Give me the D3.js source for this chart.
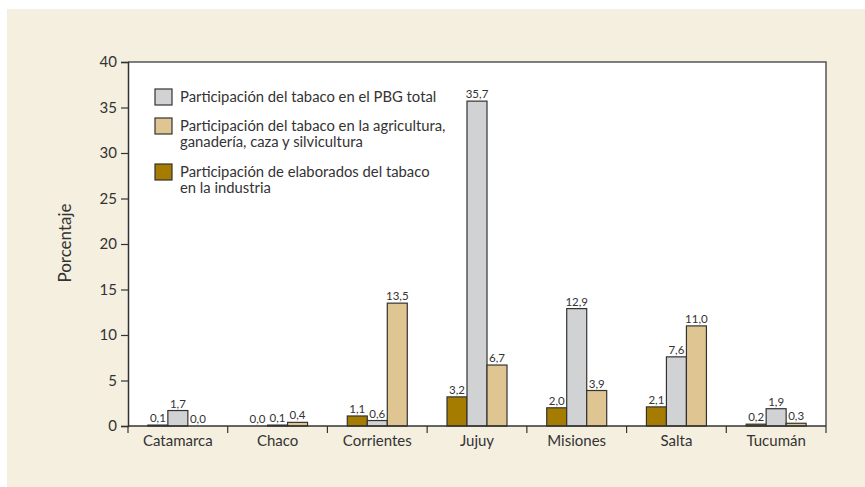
<!DOCTYPE html>
<html>
<head>
<meta charset="utf-8">
<script src="https://cdn.jsdelivr.net/npm/d3@7"></script>
<style>
  body { margin: 0; background: #ffffff; }
  text { font-family: Lato, "Open Sans", sans-serif; fill: #333333; }
</style>
</head>
<body>
<script>
// Provinces and the three series (percent)
var provincias = ["Catamarca", "Chaco", "Corrientes", "Jujuy", "Misiones", "Salta", "Tucumán"];
var elaborados = [0.1, 0.0, 1.1, 3.2, 2.0, 2.1, 0.2];
var pbgTotal = [1.7, 0.1, 0.6, 35.7, 12.9, 7.6, 1.9];
var agricultura = [0.0, 0.4, 13.5, 6.7, 3.9, 11.0, 0.3];
var yTicks = [0, 5, 10, 15, 20, 25, 30, 35, 40];

var series = [
  {key: "elab", values: elaborados, color: "#a67c00"},
  {key: "pbg", values: pbgTotal, color: "#d1d2d4"},
  {key: "agri", values: agricultura, color: "#dfc591"}
];

var legendItems = [
  {color: "#d1d2d4", lines: ["Participación del tabaco en el PBG total"]},
  {color: "#dfc591", lines: ["Participación del tabaco en la agricultura,", "ganadería, caza y silvicultura"]},
  {color: "#a67c00", lines: ["Participación de elaborados del tabaco", "en la industria"]}
];

var w = 865;
var h = 487;
var plotLeft = 128, plotRight = 826, plotTop = 62, plotBottom = 426;

var svg = d3.select("body")
  .append("svg")
  .attr("width", w)
  .attr("height", h);

// beige background and white plot area
svg.append("rect")
  .attr("x", 7).attr("y", 9)
  .attr("width", w - 7).attr("height", h - 9)
  .attr("fill", "#f5efe0");

svg.append("rect")
  .attr("x", plotLeft).attr("y", plotTop)
  .attr("width", plotRight - plotLeft).attr("height", plotBottom - plotTop)
  .attr("fill", "#ffffff");

var xScale = d3.scaleBand()
  .domain(provincias)
  .range([plotLeft, plotRight]);

var bw = xScale.bandwidth();
var inner = d3.scaleBand()
  .domain(series.map(function(s) { return s.key; }))
  .range([bw / 2 - 30, bw / 2 + 30]);

var yScale = d3.scaleLinear()
  .domain([0, 40])
  .range([plotBottom, plotTop]);

// top and right frame
svg.append("path")
  .attr("d", "M" + plotLeft + "," + plotTop + "H" + plotRight + "V" + plotBottom)
  .attr("fill", "none")
  .attr("stroke", "#555555")
  .attr("stroke-width", 1.5);

// bars
var groups = svg.selectAll(".serie")
  .data(series)
  .enter()
  .append("g")
  .attr("class", "serie");

groups.selectAll("rect")
  .data(function(s) {
    return s.values.map(function(v, i) { return {key: s.key, color: s.color, v: v, cat: provincias[i]}; });
  })
  .enter()
  .append("rect")
  .attr("x", function(d) { return xScale(d.cat) + inner(d.key); })
  .attr("y", function(d) { return yScale(d.v); })
  .attr("width", inner.bandwidth())
  .attr("height", function(d) { return plotBottom - yScale(d.v); })
  .attr("fill", function(d) { return d.color; })
  .attr("stroke", "#333333")
  .attr("stroke-width", 1.2);

// value labels
var fmt = function(v) { return v.toFixed(1).replace(".", ","); };
groups.selectAll("text")
  .data(function(s) {
    return s.values.map(function(v, i) { return {key: s.key, v: v, cat: provincias[i]}; });
  })
  .enter()
  .append("text")
  .attr("x", function(d) { return xScale(d.cat) + inner(d.key) + inner.bandwidth() / 2; })
  .attr("y", function(d) { return yScale(d.v) - 3; })
  .attr("text-anchor", "middle")
  .style("font-size", "11.5px")
  .text(function(d) { return fmt(d.v); });

// y axis
var yAxis = svg.append("g")
  .attr("transform", "translate(" + plotLeft + ",0)")
  .call(d3.axisLeft(yScale).tickValues(yTicks).tickSize(7).tickPadding(4));
yAxis.select(".domain").attr("stroke", "#333333").attr("stroke-width", 1.5);
yAxis.selectAll(".tick line").attr("stroke", "#333333").attr("stroke-width", 1.2);
yAxis.selectAll(".tick text")
  .style("font-size", "15px")
  .style("font-family", "Lato, sans-serif")
  .attr("fill", "#333333");

// x axis with separators between provinces
var xAxis = svg.append("g")
  .attr("transform", "translate(0," + plotBottom + ")");
xAxis.append("line")
  .attr("x1", plotLeft).attr("x2", plotRight)
  .attr("stroke", "#333333").attr("stroke-width", 1.5);
var seps = provincias.map(function(p) { return xScale(p); }).concat([plotRight]);
xAxis.selectAll(".sep")
  .data(seps)
  .enter()
  .append("line")
  .attr("class", "sep")
  .attr("x1", function(d) { return d; })
  .attr("x2", function(d) { return d; })
  .attr("y1", 0).attr("y2", 7)
  .attr("stroke", "#333333").attr("stroke-width", 1.2);
xAxis.selectAll(".cat")
  .data(provincias)
  .enter()
  .append("text")
  .attr("class", "cat")
  .attr("x", function(d) { return xScale(d) + bw / 2; })
  .attr("y", 20)
  .attr("text-anchor", "middle")
  .style("font-size", "15px")
  .text(function(d) { return d; });

// y axis title
svg.append("text")
  .attr("transform", "translate(71,243) rotate(-90)")
  .attr("text-anchor", "middle")
  .style("font-size", "17px")
  .text("Porcentaje");

// legend
var legendY = [89, 118, 164];
var legend = svg.selectAll(".legend")
  .data(legendItems)
  .enter()
  .append("g")
  .attr("class", "legend")
  .attr("transform", function(d, i) { return "translate(155," + legendY[i] + ")"; });

legend.append("rect")
  .attr("width", 17).attr("height", 16)
  .attr("fill", function(d) { return d.color; })
  .attr("stroke", "#333333")
  .attr("stroke-width", 1.2);

legend.each(function(d) {
  var g = d3.select(this);
  d.lines.forEach(function(line, j) {
    g.append("text")
      .attr("x", 25)
      .attr("y", 13 + j * 15.5)
      .style("font-size", "14.8px")
      .text(line);
  });
});
</script>
</body>
</html>
